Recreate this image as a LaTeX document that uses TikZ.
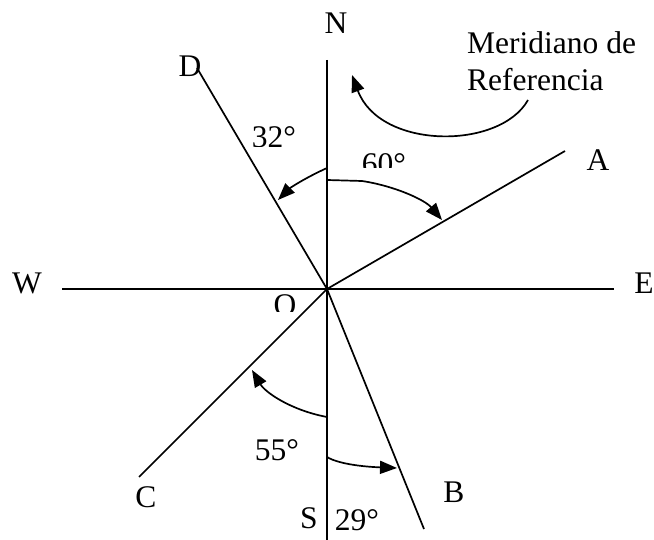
\documentclass[tikz,border=0pt]{standalone}
\usepackage{fontspec}
\setmainfont{Liberation Serif}
\usetikzlibrary{arrows.meta}
\begin{document}
\begin{tikzpicture}[x=1pt,y=-1pt,
  axis/.style={line width=1.7pt},
  turn/.style={line width=1.7pt,-{Triangle[length=17pt,width=13pt]}},
  lbl/.style={inner sep=0pt,font=\fontsize{31.5}{36}\selectfont}]
\useasboundingbox (0,0) rectangle (654,540);
\coordinate (O) at (327,289);
\coordinate (Ntop) at (327,60);
\coordinate (Sbot) at (327,540);
\coordinate (Wend) at (62,289);
\coordinate (Eend) at (614,289);
\coordinate (Dend) at (197,68);
\coordinate (Aend) at (565,151);
\coordinate (Cend) at (139,477);
\coordinate (Bend) at (424,529);
\draw[axis] (Ntop) -- (Sbot);
\draw[axis] (Wend) -- (Eend);
\draw[axis] (O) -- (Dend);
\draw[axis] (O) -- (Aend);
\draw[axis] (O) -- (Cend);
\draw[axis] (O) -- (Bend);
% angle arrows
\coordinate (a32s) at (327,168);
\coordinate (a32e) at (278,200);
\draw[turn] (a32s) .. controls (305,178) and (290,188) .. (a32e);
\coordinate (a60s) at (327,180);
\coordinate (a60m) at (362,181);
\coordinate (a60e) at (442,220);
\draw[turn] (a60s) -- (a60m) .. controls (395,186) and (425,200) .. (a60e);
\coordinate (refs) at (528,100);
\coordinate (refe) at (352,75);
\draw[turn] (refs) .. controls (500,150) and (380,150) .. (refe);
\coordinate (a55s) at (327,417);
\coordinate (a55e) at (252,370);
\draw[turn] (a55s) .. controls (290,410) and (265,392) .. (a55e);
\coordinate (a29s) at (327,457);
\coordinate (a29e) at (397,468);
\draw[turn] (a29s) .. controls (340,465) and (370,467) .. (a29e);
% labels
\node[lbl] (N) at (336,23) {N};
\node[lbl] (S) at (309,518) {S};
\node[lbl] (W) at (27,283) {W};
\node[lbl] (E) at (644,283) {E};
\node[lbl] (D) at (190,66) {D};
\node[lbl] (A) at (598,160) {A};
\node[lbl] (C) at (146,497) {C};
\node[lbl] (B) at (454,492) {B};
\node[lbl] (l55) at (277,450) {55°};
\node[lbl] (l29) at (357,520) {29°};
\begin{scope}
\clip (240,100) rectangle (320,147);
\node[lbl] (l32) at (274,137) {32°};
\end{scope}
\begin{scope}
\clip (340,130) rectangle (430,168);
\node[lbl] (l60) at (384,164) {60°};
\end{scope}
\begin{scope}
\clip (270,291) rectangle (310,312);
\node[lbl] (lO) at (285,305) {O};
\end{scope}
\node[lbl,anchor=west] (mer1) at (467,43) {Meridiano de};
\node[lbl,anchor=west] (mer2) at (467,80) {Referencia};
\end{tikzpicture}
\end{document}
